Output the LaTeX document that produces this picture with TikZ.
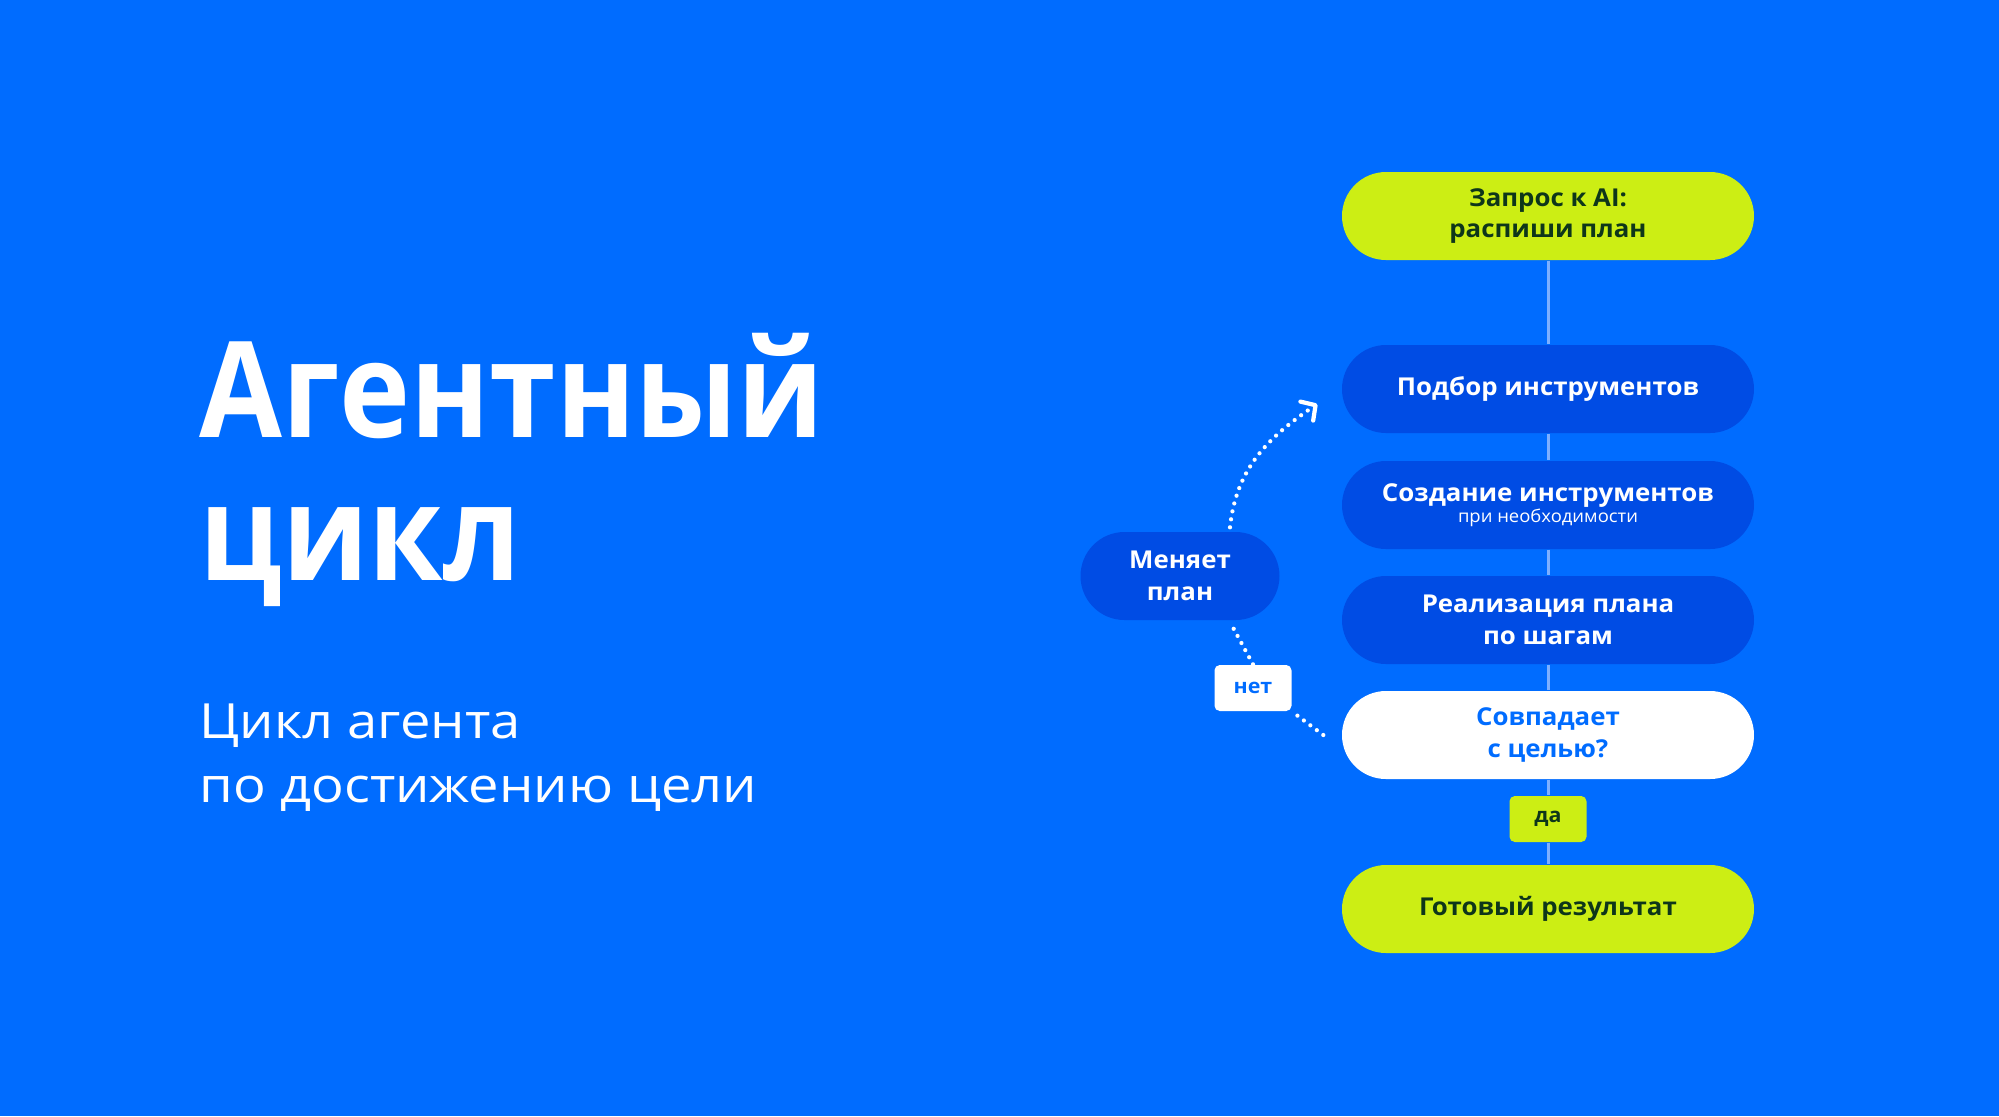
\documentclass[tikz,border=0pt]{standalone}
\usepackage{fontspec}
\setmainfont{Open Sans}[FakeStretch=1.05]
\newfontfamily\titre{Open Sans}[FakeStretch=0.9]
\newfontfamily\soustitre{Open Sans}[FakeStretch=1.12]
\usetikzlibrary{arrows.meta}
\definecolor{fond}{RGB}{0,108,255}
\definecolor{bleufonce}{RGB}{0,76,228}
\definecolor{citron}{RGB}{204,238,20}
\definecolor{vertfonce}{RGB}{14,54,26}
\definecolor{trait}{RGB}{125,175,255}

\begin{document}
\begin{tikzpicture}
\tikzstyle{lien}=[trait,line width=0.85pt]
\tikzstyle{pointille}=[white,line width=1.2pt,line cap=round,dash pattern=on 0pt off 2.3pt]
\tikzset{etape/.style={fill=#1,text=white,font=\bfseries\fontsize{7}{9}\selectfont,align=center,
minimum width=4.12cm,minimum height=0.88cm,rounded corners=0.44cm,inner sep=0pt},
etape/.default={bleufonce}}
\tikzset{etiquette/.style={fill=#1,font=\bfseries\fontsize{5.8}{7}\selectfont,
minimum width=0.77cm,minimum height=0.46cm,rounded corners=1.5pt,inner sep=0pt}}

\fill[fond] (0,0) rectangle (19.99,-11.16);

% titre
\node[white,anchor=base west,inner sep=0pt,font=\titre\bfseries\fontsize{38}{40}\selectfont] (T1) at (1.99,-4.37) {Агентный};
\node[white,anchor=base west,inner sep=0pt,font=\titre\bfseries\fontsize{38}{40}\selectfont] (T2) at (1.99,-5.80) {цикл};
\node[white,anchor=base west,inner sep=0pt,font=\soustitre\fontsize{13.8}{15}\selectfont] (S1) at (1.99,-7.38) {Цикл агента};
\node[white,anchor=base west,inner sep=0pt,font=\soustitre\fontsize{13.8}{15}\selectfont] (S2) at (1.99,-8.02) {по достижению цели};

% etapes
\node[etape=citron,text=vertfonce] (E0) at (15.48,-2.16) {Запрос к AI:\\распиши план};
\node[etape] (E1) at (15.48,-3.89) {Подбор инструментов};
\node[etape] (E2) at (15.48,-5.05) {Создание инструментов\\[-3pt]{\mdseries\fontsize{5}{6}\selectfont при необходимости}};
\node[etape] (E3) at (15.48,-6.20) {Реализация плана\\по шагам};
\node[etape=white,text=fond] (E4) at (15.48,-7.35) {Совпадает\\с целью?};
\node[etiquette=citron,text=vertfonce] (DA) at (15.48,-8.19) {да};
\node[etape=citron,text=vertfonce] (E5) at (15.48,-9.09) {Готовый результат};
\node[etape,minimum width=1.99cm] (M) at (11.80,-5.76) {Меняет\\план};
\node[etiquette=white,text=fond] (NET) at (12.53,-6.88) {нет};

\draw[lien] (E0) -- (E1);
\draw[lien] (E1) -- (E2);
\draw[lien] (E2) -- (E3);
\draw[lien] (E3) -- (E4);
\draw[lien] (E4) -- (DA);
\draw[lien] (DA) -- (E5);

\draw[pointille] ([xshift=-0.18cm]E4.west) -- (NET.south east);
\draw[pointille] (NET.north) -- ([xshift=0.52cm,yshift=-0.05cm]M.south);
\draw[pointille,-{Straight Barb[length=3pt,width=6.5pt,line width=1.2pt,round]}] ([xshift=0.5cm,yshift=0.04cm]M.north) to[out=84,in=214] ([xshift=-0.24cm,yshift=-0.15cm]E1.west);

\end{tikzpicture}
\end{document}
